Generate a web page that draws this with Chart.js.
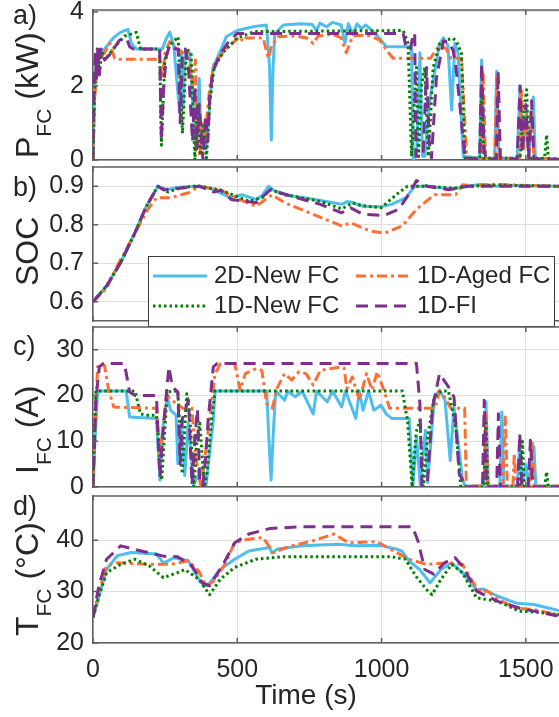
<!DOCTYPE html>
<html>
<head>
<meta charset="utf-8">
<script src="https://cdn.jsdelivr.net/npm/chart.js@4.4.1/dist/chart.umd.min.js"></script>
<style>
    html, body { margin: 0; padding: 0; background: #fff; }
    #wrap { position: relative; width: 559px; height: 717px; overflow: hidden; }
    #wrap canvas { position: absolute; left: 0; }
</style>
</head>
<body>
<div id="wrap">
    <canvas id="pfcChart"></canvas>
    <canvas id="socChart"></canvas>
    <canvas id="ifcChart"></canvas>
    <canvas id="tfcChart"></canvas>
</div>
<script>
// ---- data: [time (s), value] ----
const seriesNames = ['2D-New FC', '1D-Aged FC', '1D-New FC', '1D-FI'];

const timeTicks = [0, 500, 1000, 1500];
const timeTickLabels = ['0', '500', '1000', '1500'];
const pfcTicks = [0, 2, 4];
const pfcTickLabels = ['0', '2', '4'];
const socTicks = [0.6, 0.7, 0.8, 0.9];
const socTickLabels = ['0.6', '0.7', '0.8', '0.9'];
const ifcTicks = [0, 10, 20, 30];
const ifcTickLabels = ['0', '10', '20', '30'];
const tfcTicks = [20, 30, 40];
const tfcTickLabels = ['20', '30', '40'];

// a) fuel cell power (kW)
const pfcNew2D = [[0,0],[5,1.7],[12,2.6],[20,2.9],[40,3.0],[70,3.3],[95,3.45],[121,3.53],[133,3.15],[150,3.0],[231,3.0],[240,3.0],[255,3.3],[266,3.45],[280,3.1],[300,1.3],[306,2.95],[312,1.4],[320,2.9],[335,2.9],[350,1.0],[360,0.4],[368,2.2],[375,0.3],[385,0.8],[393,0.3],[405,1.6],[416,2.5],[439,2.9],[462,3.33],[500,3.5],[555,3.6],[601,3.65],[612,2.5],[618,0.54],[624,2.5],[630,3.42],[660,3.65],[720,3.68],[760,3.66],[775,3.5],[786,3.7],[810,3.6],[830,3.72],[860,3.65],[873,3.15],[885,3.68],[900,3.4],[915,3.68],[930,3.55],[945,3.65],[983,3.38],[1017,3.06],[1104,3.06],[1110,0],[1122,0.2],[1133,2.9],[1142,0.1],[1150,0.1],[1165,1.5],[1180,2.2],[1200,3.1],[1214,3.3],[1230,3.1],[1243,1.35],[1254,3.15],[1265,2.9],[1283,0.1],[1340,0.05],[1347,2.7],[1355,0.5],[1362,0.02],[1392,0.02],[1399,2.4],[1407,0.05],[1470,0.05],[1480,2.0],[1490,0.3],[1500,1.2],[1510,0.1],[1520,1.2],[1526,1.7],[1533,0.05],[1615,0.02]];
const pfcAged1D = [[0,0],[5,1.6],[12,2.3],[20,2.7],[40,2.9],[58,3.15],[75,2.75],[92,2.72],[231,2.72],[240,2.2],[250,2.9],[266,3.2],[290,3.0],[310,2.9],[330,2.9],[345,2.0],[355,2.7],[362,0.5],[370,0.1],[378,1.0],[385,0.3],[395,1.2],[405,2.0],[420,2.6],[460,3.0],[509,3.33],[520,3.2],[530,3.3],[590,3.3],[607,2.75],[620,3.1],[640,3.33],[700,3.35],[740,3.3],[763,3.15],[780,3.35],[830,3.4],[860,3.3],[878,2.9],[900,3.35],[950,3.38],[994,3.24],[1017,2.97],[1040,2.75],[1170,2.75],[1190,3.0],[1205,3.1],[1225,3.0],[1240,2.75],[1277,2.75],[1295,0.05],[1346,0.05],[1352,2.4],[1360,0.05],[1393,0.05],[1399,2.25],[1406,0.05],[1478,0.05],[1485,1.9],[1492,0.3],[1502,1.3],[1510,0.05],[1520,1.3],[1528,0.05],[1615,0.02]];
const pfcNew1D = [[0,0],[5,1.8],[10,2.4],[15,3.0],[22,2.3],[30,2.9],[50,2.8],[80,3.1],[110,3.35],[139,3.42],[150,3.45],[165,3.0],[231,3.0],[237,0.4],[249,2.7],[265,3.1],[280,3.2],[295,3.33],[310,0.72],[324,3.0],[340,2.9],[353,0.0],[362,1.5],[372,0.2],[382,1.0],[393,0.05],[405,1.6],[420,2.5],[450,2.9],[500,3.3],[560,3.47],[1075,3.5],[1092,3.15],[1104,0.1],[1113,1.5],[1121,2.5],[1128,0.1],[1138,2.0],[1150,2.5],[1162,0.1],[1179,2.5],[1202,3.15],[1220,3.24],[1248,3.29],[1260,3.2],[1277,2.88],[1289,0.05],[1341,0.05],[1347,2.0],[1355,0.05],[1480,0.05],[1495,1.5],[1503,1.9],[1510,0.05],[1565,0.05],[1572,0.68],[1578,0.05],[1615,0.02]];
const pfcFI1D = [[0,0],[3,2.1],[8,2.9],[12,2.2],[17,3.06],[22,2.3],[27,3.0],[40,2.7],[58,2.85],[92,3.24],[116,3.3],[127,3.06],[140,3.0],[231,3.0],[237,0.55],[245,2.0],[254,2.8],[266,3.1],[285,3.0],[295,3.0],[302,1.0],[310,2.8],[320,3.0],[330,2.6],[345,0.5],[353,2.0],[360,0.3],[368,1.5],[381,0.0],[390,1.2],[398,0.5],[405,1.8],[416,2.4],[440,2.85],[470,3.2],[500,3.42],[1075,3.42],[1086,3.0],[1100,3.0],[1110,3.42],[1115,3.42],[1119,0.1],[1144,0.1],[1156,2.5],[1165,0.5],[1173,0.05],[1190,2.2],[1214,3.2],[1230,3.2],[1248,2.97],[1258,2.5],[1270,1.6],[1289,0.05],[1340,0.02],[1347,2.6],[1355,0.3],[1362,0.02],[1398,0.02],[1404,2.4],[1412,0.05],[1470,0.02],[1480,2.0],[1488,0.2],[1500,1.5],[1510,0.05],[1520,1.6],[1528,0.02],[1615,0.02]];

// b) battery state of charge
const socNew2D = [[0,0.6],[47,0.641],[96,0.702],[146,0.78],[183,0.845],[205,0.874],[225,0.9],[255,0.891],[305,0.898],[368,0.9],[405,0.895],[442,0.882],[479,0.87],[516,0.878],[565,0.866],[585,0.875],[609,0.9],[625,0.89],[664,0.878],[763,0.866],[862,0.853],[880,0.86],[893,0.859],[936,0.848],[998,0.847],[1035,0.853],[1084,0.87],[1115,0.9],[1158,0.9],[1200,0.897],[1250,0.893],[1290,0.9],[1350,0.905],[1400,0.9],[1450,0.902],[1615,0.9]];
const socAged1D = [[0,0.6],[47,0.635],[84,0.693],[146,0.779],[190,0.84],[220,0.87],[269,0.87],[331,0.883],[368,0.9],[442,0.89],[500,0.868],[565,0.848],[621,0.878],[664,0.857],[763,0.827],[862,0.797],[893,0.805],[960,0.784],[1010,0.778],[1072,0.797],[1121,0.84],[1183,0.878],[1257,0.878],[1281,0.904],[1320,0.9],[1380,0.905],[1615,0.9]];
const socNew1D = [[0,0.6],[47,0.641],[96,0.702],[146,0.78],[183,0.845],[205,0.874],[225,0.9],[260,0.885],[300,0.895],[345,0.9],[368,0.9],[442,0.89],[541,0.861],[585,0.87],[615,0.891],[664,0.878],[788,0.861],[862,0.841],[899,0.857],[930,0.85],[998,0.844],[1059,0.883],[1090,0.9],[1158,0.9],[1250,0.895],[1300,0.9],[1400,0.903],[1615,0.9]];
const socFI1D = [[0,0.6],[47,0.641],[96,0.702],[146,0.78],[183,0.845],[205,0.874],[225,0.9],[245,0.89],[270,0.895],[300,0.895],[368,0.9],[420,0.885],[442,0.89],[480,0.865],[540,0.86],[565,0.857],[615,0.891],[689,0.874],[788,0.853],[862,0.831],[893,0.844],[936,0.827],[1010,0.824],[1059,0.84],[1100,0.885],[1121,0.915],[1158,0.9],[1232,0.891],[1300,0.9],[1615,0.9]];

// c) fuel cell current (A)
const ifcNew2D = [[0,0],[5,8],[16,21],[115,21],[127,15.3],[220,15],[226,8],[232,1.5],[240,12],[257,19.7],[269,16.8],[288,15.7],[294,5.1],[306,14.6],[318,2.5],[330,14],[349,0.5],[360,2],[380,4.4],[392,0.5],[405,8],[417,14.6],[423,21],[602,21],[610,10],[617,1.5],[625,12],[633,21],[664,19],[675,21],[701,19.7],[725,21],[763,16],[775,21],[812,18.6],[830,21],[862,17.5],[875,21],[911,15],[923,21],[936,16.8],[955,21],[973,16.8],[998,17.9],[1016,16],[1035,15],[1096,15],[1109,0.5],[1121,11],[1134,0.5],[1152,12.4],[1160,1],[1183,19.7],[1201,21.2],[1220,19],[1238,5.8],[1251,17.5],[1281,1.5],[1290,0.2],[1355,0.2],[1362,18.6],[1370,0.2],[1410,0.2],[1417,16.4],[1424,0.2],[1470,0.2],[1479,9.5],[1487,0.5],[1500,5],[1510,0.3],[1522,7],[1528,8.8],[1535,0.2],[1615,0.2]];
const ifcAged1D = [[0,0],[8,14],[16,26.3],[25,27],[40,26.6],[55,21],[72,17.5],[220,17.2],[232,7],[257,20],[294,17.9],[318,17],[343,17.2],[355,7],[374,0],[385,5],[405,15.3],[423,24.8],[442,27],[491,27],[510,21.2],[528,24.8],[565,25.9],[585,25.5],[602,18.2],[621,17.2],[640,21.9],[664,24.8],[689,23.4],[714,25.2],[738,24.8],[763,22.3],[788,25.5],[825,25.9],[862,26.3],[870,26],[880,21.5],[899,24.1],[923,19],[948,24.8],[967,21.2],[985,25.2],[1010,20.8],[1028,17.2],[1185,17.2],[1201,21],[1220,19.5],[1240,17.2],[1288,17.2],[1294,0.2],[1355,0.2],[1362,16],[1369,0.2],[1420,0.2],[1429,15.3],[1436,0.2],[1455,0.2],[1460,7.3],[1466,0.2],[1515,0.2],[1522,10.2],[1529,0.2],[1615,0.2]];
const ifcNew1D = [[0,0],[10,21],[146,21],[164,16],[183,15.7],[220,15.7],[238,1.5],[257,20.8],[294,21],[309,2.9],[325,20.4],[335,16],[349,0],[360,10],[370,14],[386,0],[395,3],[411,14.6],[423,21],[1072,21],[1090,14.6],[1106,0],[1120,12],[1133,14.6],[1145,0],[1160,11],[1183,19.7],[1207,21],[1232,21],[1257,13.1],[1275,0],[1355,0],[1362,14],[1368,0],[1480,0],[1488,10],[1495,0],[1565,0],[1572,3.3],[1578,0],[1615,0]];
const ifcFI1D = [[0,0],[10,19],[22,26.3],[35,27],[109,27],[127,20.8],[146,20],[220,20],[226,10],[232,2.2],[245,14],[263,26.3],[275,21.9],[294,20.8],[302,5],[310,15],[331,19],[343,0.5],[355,12],[362,17],[370,1],[380,0.2],[390,6],[399,14.6],[417,26.3],[430,27],[1121,27],[1133,18.2],[1140,0.3],[1158,0.5],[1177,17.5],[1201,24.8],[1232,21.9],[1251,19.7],[1269,2.9],[1294,0],[1350,0],[1356,19],[1364,0],[1399,0],[1405,16],[1412,0],[1472,0],[1479,11.7],[1486,0],[1508,0],[1516,10.2],[1524,0],[1615,0]];

// d) fuel cell temperature (°C)
const tfcNew2D = [[0,24.9],[20,29],[47,34.3],[84,37],[133,37.6],[220,37.3],[244,35.6],[260,36],[281,36.6],[330,36],[367,32.4],[386,31],[404,31.7],[441,34.3],[491,36.3],[540,37.9],[612,38.6],[620,37.5],[640,38.3],[725,38.9],[848,39.2],[910,38.9],[996,39],[1050,38.3],[1070,37.9],[1095,36],[1132,34.3],[1168,31.7],[1206,34.3],[1243,35.6],[1280,33.7],[1329,30.4],[1355,30.5],[1366,30.1],[1403,29.1],[1465,27.8],[1527,27.5],[1615,26.3]];
const tfcAged1D = [[0,25],[20,30],[47,35],[84,35.6],[195,35.3],[269,35.3],[330,36],[367,34],[392,31],[417,32],[454,35],[491,39.5],[515,39.9],[540,40.2],[589,40.5],[626,37.6],[688,38.9],[762,39.9],[836,41.2],[885,39.5],[984,39.7],[1095,36.3],[1156,35.3],[1230,35.6],[1280,35.3],[1329,30.7],[1354,29.8],[1365,30.2],[1403,28.5],[1465,26.8],[1527,26.5],[1615,25.5]];
const tfcNew1D = [[0,25],[20,29],[47,33.7],[96,35.3],[145,36.3],[195,35],[244,32.7],[293,33.7],[318,34.3],[367,32.4],[404,29.4],[441,32.4],[491,34.7],[565,36.3],[663,36.8],[1033,36.8],[1083,36.3],[1119,33],[1156,30.4],[1175,29.4],[1206,32.4],[1243,35.3],[1280,33.7],[1329,28.8],[1403,28.1],[1477,26.2],[1540,26],[1615,25.5]];
const tfcFI1D = [[0,25],[20,31],[47,36.3],[96,38.9],[145,38.2],[244,36.9],[293,36.8],[343,35],[380,31.7],[404,31.1],[454,35.6],[491,39.5],[540,41.2],[614,42.3],[725,42.6],[1107,42.6],[1126,39.9],[1150,34.3],[1181,33.4],[1218,35.6],[1255,36.6],[1280,35],[1329,30.1],[1403,28.1],[1477,26.8],[1615,25.2]];

// ---- look ----
const FONT = '"Liberation Sans", Arial, Helvetica, sans-serif';
const AXIS = '#5f5f5f';
const GRID = '#dfdfdf';
const TEXT = '#262626';
const WIDTH = 559;
const PAD = 20;
const PLOT_LEFT = 93;
const X_MAX = 1615;

const styles = [
    { color: '#4DBEEE', dash: [] },
    { color: '#FF6E33', dash: [10, 4, 3, 4] },
    { color: '#008000', dash: [2.5, 3] },
    { color: '#7E2F8E', dash: [12, 7] }
];

const panels = [
    { id: 'pfcChart', top: 10, bottom: 160, min: 0, max: 4.054, ticks: pfcTicks, labels: pfcTickLabels,
      series: [pfcNew2D, pfcAged1D, pfcNew1D, pfcFI1D],
      title: [['P', false], ['FC', true], [' (kW)', false]], titleStart: 158, tag: 'a)', tagY: 17 },
    { id: 'socChart', top: 167, bottom: 321, min: 0.55, max: 0.95, ticks: socTicks, labels: socTickLabels,
      series: [socNew2D, socAged1D, socNew1D, socFI1D],
      title: [['SOC', false]], titleStart: 286, tag: 'b)', tagY: 189, legend: true },
    { id: 'ifcChart', top: 327, bottom: 487, min: 0, max: 35, ticks: ifcTicks, labels: ifcTickLabels,
      series: [ifcNew2D, ifcAged1D, ifcNew1D, ifcFI1D],
      title: [['I', false], ['FC', true], [' (A)', false]], titleStart: 474, tag: 'c)', tagY: 348 },
    { id: 'tfcChart', top: 496, bottom: 643, min: 20, max: 48.6, ticks: tfcTicks, labels: tfcTickLabels,
      series: [tfcNew2D, tfcAged1D, tfcNew1D, tfcFI1D],
      title: [['T', false], ['FC', true], [' (°C)', false]], titleStart: 636, tag: 'd)', tagY: 508, xAxis: true }
];

function toPoints(pairs) {
    return pairs.map(p => ({ x: p[0], y: p[1] }));
}

// box, inward ticks, rotated y label, panel letter, legend
function makeDecor(p) {
    const off = p.top - PAD;
    return {
        id: 'decor',
        afterDraw(chart) {
            const { ctx, chartArea: a, scales } = chart;
            ctx.save();
            ctx.strokeStyle = AXIS;
            ctx.lineWidth = 1.5;
            ctx.beginPath();
            ctx.moveTo(a.left, a.top);
            ctx.lineTo(a.right, a.top);
            timeTicks.forEach(v => {
                const x = scales.x.getPixelForValue(v);
                ctx.moveTo(x, a.bottom); ctx.lineTo(x, a.bottom - 5);
                ctx.moveTo(x, a.top); ctx.lineTo(x, a.top + 5);
            });
            p.ticks.forEach(v => {
                const y = scales.y.getPixelForValue(v);
                ctx.moveTo(a.left, y); ctx.lineTo(a.left + 5, y);
            });
            ctx.stroke();

            ctx.fillStyle = TEXT;
            ctx.font = `27px ${FONT}`;
            ctx.textAlign = 'left';
            ctx.textBaseline = 'middle';
            ctx.fillText(p.tag, 13, p.tagY - off);

            if (p.xAxis) {
                ctx.font = `28px ${FONT}`;
                ctx.textAlign = 'center';
                ctx.textBaseline = 'alphabetic';
                ctx.fillText('Time (s)', 306, 704 - off);
            }

            if (p.legend) {
                const bx = 148, by = 256 - off, bw = 406, bh = 70;
                ctx.fillStyle = '#fff';
                ctx.fillRect(bx, by, bw, bh);
                ctx.strokeStyle = '#3a3a3a';
                ctx.lineWidth = 1;
                ctx.strokeRect(bx + 0.5, by + 0.5, bw, bh);
                const spots = [[0, 153, 276], [1, 356, 276], [2, 153, 306], [3, 356, 306]];
                spots.forEach(([i, x, y]) => {
                    ctx.setLineDash(styles[i].dash);
                    ctx.strokeStyle = styles[i].color;
                    ctx.lineWidth = 3;
                    ctx.beginPath();
                    ctx.moveTo(x, y - off);
                    ctx.lineTo(x + 54, y - off);
                    ctx.stroke();
                    ctx.setLineDash([]);
                    ctx.fillStyle = TEXT;
                    ctx.font = `24px ${FONT}`;
                    ctx.textAlign = 'left';
                    ctx.textBaseline = 'middle';
                    ctx.fillText(seriesNames[i], x + 61, y - off);
                });
            }

            ctx.translate(38, p.titleStart - off);
            ctx.rotate(-Math.PI / 2);
            ctx.fillStyle = TEXT;
            ctx.textAlign = 'left';
            ctx.textBaseline = 'alphabetic';
            let cx = 0;
            p.title.forEach(([txt, sub]) => {
                ctx.font = `${sub ? 21 : 32}px ${FONT}`;
                ctx.fillText(txt, cx, sub ? 13 : 0);
                cx += ctx.measureText(txt).width;
            });
            ctx.restore();
        }
    };
}

function makePanel(p) {
    const canvas = document.getElementById(p.id);
    const xHeight = p.xAxis ? 717 - p.bottom : 0;
    canvas.width = WIDTH;
    canvas.height = PAD + (p.bottom - p.top) + (p.xAxis ? xHeight : PAD);
    canvas.style.top = (p.top - PAD) + 'px';

    // purple on top, cyan at the bottom
    const datasets = p.series.map((s, i) => ({
        label: seriesNames[i],
        data: toPoints(s),
        borderColor: styles[i].color,
        borderDash: styles[i].dash,
        borderWidth: 3,
        borderCapStyle: 'butt',
        borderJoinStyle: 'round',
        pointRadius: 0,
        fill: false,
        tension: 0,
        order: 3 - i
    }));

    return new Chart(canvas, {
        type: 'line',
        data: { datasets },
        options: {
            responsive: false,
            maintainAspectRatio: false,
            animation: false,
            events: [],
            layout: { padding: { top: PAD, bottom: p.xAxis ? 0 : PAD, left: 0, right: 0 } },
            plugins: { legend: { display: false }, tooltip: { enabled: false } },
            scales: {
                x: {
                    type: 'linear',
                    min: 0,
                    max: X_MAX,
                    afterBuildTicks: s => { s.ticks = timeTicks.map(v => ({ value: v })); },
                    afterFit: s => { s.height = xHeight; s.paddingLeft = 0; s.paddingRight = 0; },
                    grid: { color: GRID, lineWidth: 1, drawTicks: false },
                    border: { display: true, color: AXIS, width: 1.5 },
                    ticks: {
                        display: !!p.xAxis,
                        padding: 12,
                        color: TEXT,
                        font: { family: FONT, size: 25 },
                        maxRotation: 0,
                        autoSkip: false,
                        callback: (v, i) => timeTickLabels[i]
                    }
                },
                y: {
                    type: 'linear',
                    min: p.min,
                    max: p.max,
                    afterBuildTicks: s => { s.ticks = p.ticks.map(v => ({ value: v })); },
                    afterFit: s => { s.width = PLOT_LEFT; s.paddingTop = 0; s.paddingBottom = 0; },
                    grid: { color: GRID, lineWidth: 1, drawTicks: false },
                    border: { display: true, color: AXIS, width: 1.5 },
                    ticks: {
                        padding: 9,
                        color: TEXT,
                        font: { family: FONT, size: 25 },
                        autoSkip: false,
                        callback: (v, i) => p.labels[i]
                    }
                }
            }
        },
        plugins: [makeDecor(p)]
    });
}

panels.forEach(makePanel);
</script>
</body>
</html>
